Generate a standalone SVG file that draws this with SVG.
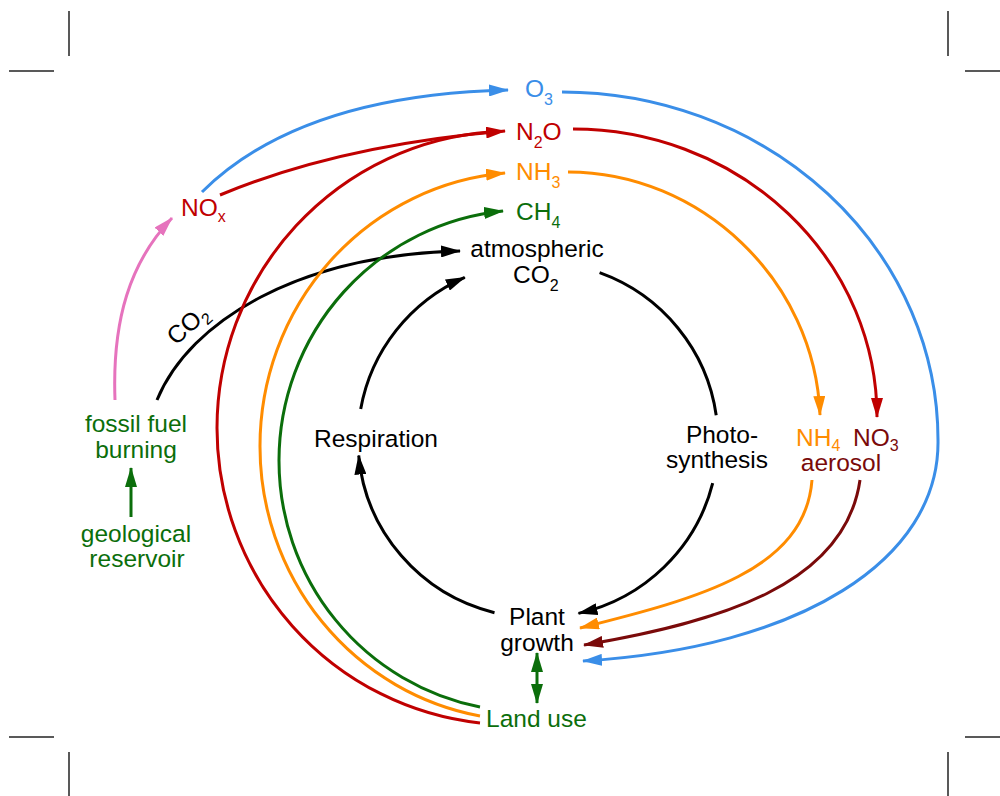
<svg xmlns="http://www.w3.org/2000/svg" width="1000" height="796" viewBox="0 0 1000 796">
<defs>
<style>
text{font-family:"Liberation Sans",Arial,Helvetica,sans-serif;font-size:24.5px}
.m{text-anchor:middle}
.sub{font-size:16px}
.k{fill:#000}.b{fill:#3a8ee8}.r{fill:#c00000}.o{fill:#ff8c00}.g{fill:#0b6e0b}.mr{fill:#7a0a0a}
.c{fill:none;stroke-width:3}
.ck{stroke:#000}.cb{stroke:#3a8ee8}.cr{stroke:#c00000}.co{stroke:#ff8c00}.cg{stroke:#0b6e0b}.cm{stroke:#7a0a0a}.cp{stroke:#e673bd}
.crop{stroke:#222;stroke-width:1.5}
</style>
<marker id="ak" viewBox="0 0 20 12" markerWidth="20" markerHeight="12" refX="19" refY="6" orient="auto" markerUnits="userSpaceOnUse"><path d="M0,0 L20,6 L0,12 z" fill="#000"/></marker>
<marker id="ab" viewBox="0 0 20 12" markerWidth="20" markerHeight="12" refX="19" refY="6" orient="auto" markerUnits="userSpaceOnUse"><path d="M0,0 L20,6 L0,12 z" fill="#3a8ee8"/></marker>
<marker id="ar" viewBox="0 0 20 12" markerWidth="20" markerHeight="12" refX="19" refY="6" orient="auto" markerUnits="userSpaceOnUse"><path d="M0,0 L20,6 L0,12 z" fill="#c00000"/></marker>
<marker id="ao" viewBox="0 0 20 12" markerWidth="20" markerHeight="12" refX="19" refY="6" orient="auto" markerUnits="userSpaceOnUse"><path d="M0,0 L20,6 L0,12 z" fill="#ff8c00"/></marker>
<marker id="ag" viewBox="0 0 20 12" markerWidth="20" markerHeight="12" refX="19" refY="6" orient="auto-start-reverse" markerUnits="userSpaceOnUse"><path d="M0,0 L20,6 L0,12 z" fill="#0b6e0b"/></marker>
<marker id="am" viewBox="0 0 20 12" markerWidth="20" markerHeight="12" refX="19" refY="6" orient="auto" markerUnits="userSpaceOnUse"><path d="M0,0 L20,6 L0,12 z" fill="#7a0a0a"/></marker>
<marker id="ap" viewBox="0 0 20 12" markerWidth="20" markerHeight="12" refX="19" refY="6" orient="auto" markerUnits="userSpaceOnUse"><path d="M0,0 L20,6 L0,12 z" fill="#e673bd"/></marker>
</defs>
<rect width="1000" height="796" fill="#fff"/>
<g id="crop-marks">
<line class="crop" x1="69" y1="11" x2="69" y2="56"/>
<line class="crop" x1="9" y1="71" x2="54" y2="71"/>
<line class="crop" x1="948" y1="11" x2="948" y2="56"/>
<line class="crop" x1="965" y1="71" x2="1000" y2="71"/>
<line class="crop" x1="9" y1="737" x2="54" y2="737"/>
<line class="crop" x1="965" y1="737" x2="1000" y2="737"/>
<line class="crop" x1="69" y1="752" x2="69" y2="796"/>
<line class="crop" x1="948" y1="752" x2="948" y2="796"/>
</g>
<g id="connectors">
<path class="c ck" d="M360.7,409.1 A180,178 0 0 1 464.8,277.4" marker-end="url(#ak)"/>
<path class="c ck" d="M599.6,272.7 A180,178 0 0 1 716.2,415.2"/>
<path class="c ck" d="M712.7,483.1 A180,178 0 0 1 578.5,613.4" marker-end="url(#ak)"/>
<path class="c ck" d="M494.5,612.7 A180,178 0 0 1 358.7,455.5" marker-end="url(#ak)"/>
<path class="c ck" d="M157,400 C190,320 300,255 460,251" marker-end="url(#ak)"/>
<path class="c cp" d="M115,400 C112,320 130,262 172,218" marker-end="url(#ap)"/>
<path class="c cb" d="M202,192 Q300,95 508,90" marker-end="url(#ab)"/>
<path class="c cr" d="M220,195 Q340,145 505,131" marker-end="url(#ar)"/>
<path class="c cr" d="M480,723 A295,297 0 0 1 217,428 A295,297 0 0 1 490,132"/>
<path class="c co" d="M480,716 A268,274 0 0 1 260,446 A268,274 0 0 1 505,173" marker-end="url(#ao)"/>
<path class="c cg" d="M480,707 A249,251 0 0 1 279,460 A249,251 0 0 1 503,211" marker-end="url(#ag)"/>
<path class="c cr" d="M573,129 A304,288 0 0 1 877,417" marker-end="url(#ar)"/>
<path class="c co" d="M568,172 C700,172 815,280 820,415" marker-end="url(#ao)"/>
<path class="c cb" d="M562,92 A376,348 0 0 1 938,440 C940,560 800,648 583,661" marker-end="url(#ab)"/>
<path class="c co" d="M812,480 C805,570 700,598 580,628" marker-end="url(#ao)"/>
<path class="c cm" d="M860,480 C845,585 720,622 584,645" marker-end="url(#am)"/>
<path class="c cg" d="M131,517 L131,468" marker-end="url(#ag)"/>
<path class="c cg" d="M537,653 L537,703" marker-start="url(#ag)" marker-end="url(#ag)"/>
</g>
<g id="node-o3"><text class="b" x="525" y="97">O<tspan class="sub" dy="8">3</tspan></text></g>
<g id="node-n2o"><text class="r" x="516" y="140">N<tspan class="sub" dy="8">2</tspan><tspan dy="-8">O</tspan></text></g>
<g id="node-nh3"><text class="o" x="516" y="180">NH<tspan class="sub" dy="8">3</tspan></text></g>
<g id="node-ch4"><text class="g" x="516" y="220">CH<tspan class="sub" dy="8">4</tspan></text></g>
<g id="node-nox"><text class="r" x="181" y="216">NO<tspan class="sub" font-size="14" dy="6">x</tspan></text></g>
<g id="node-atm-co2">
<text class="k m" x="537" y="257">atmospheric</text>
<text class="k" x="513" y="283">CO<tspan class="sub" dy="8">2</tspan></text>
</g>
<g id="label-co2"><text class="k" transform="translate(176,346) rotate(-42)">CO<tspan class="sub" dy="6">2</tspan></text></g>
<g id="node-fossil">
<text class="g m" x="136" y="432">fossil fuel</text>
<text class="g m" x="136" y="458">burning</text>
</g>
<g id="node-geological">
<text class="g m" x="136" y="542">geological</text>
<text class="g m" x="137" y="567">reservoir</text>
</g>
<g id="node-respiration"><text class="k m" x="376" y="447">Respiration</text></g>
<g id="node-photosynthesis">
<text class="k m" x="722" y="443">Photo-</text>
<text class="k m" x="717" y="468">synthesis</text>
</g>
<g id="node-aerosol">
<text class="o" x="796" y="446">NH<tspan class="sub" font-size="15" dy="5">4</tspan></text>
<text class="mr" x="853" y="446">NO<tspan class="sub" font-size="15" dy="5">3</tspan></text>
<text class="mr m" x="841" y="471">aerosol</text>
</g>
<g id="node-plant">
<text class="k m" x="537" y="625">Plant</text>
<text class="k m" x="537" y="651">growth</text>
</g>
<g id="node-landuse"><text class="g" x="486" y="727">Land use</text></g>
</svg>
